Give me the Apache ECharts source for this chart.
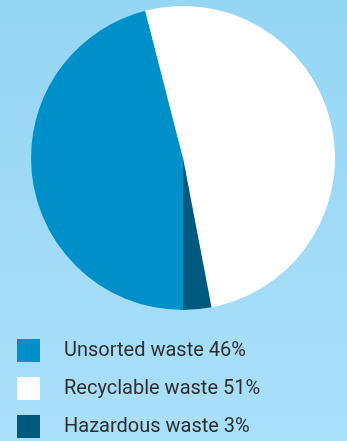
<!DOCTYPE html>
<html>
<head>
<meta charset="utf-8">
<script src="https://cdn.jsdelivr.net/npm/echarts@6/dist/echarts.min.js"></script>
<style>
  html, body { margin: 0; padding: 0; }
  body { width: 347px; height: 441px; background: linear-gradient(#95d6f4, #aadff8); }
  #chart { width: 347px; height: 441px; }
</style>
</head>
<body>
<div id="chart"></div>
<script>
// Waste composition shares (percent)
const categories = ['Unsorted waste', 'Recyclable waste', 'Hazardous waste'];
const shares = [46, 51, 3];
const colors = ['#0090c9', '#ffffff', '#005a80'];

const chart = echarts.init(document.getElementById('chart'), null, { renderer: 'canvas' });

const data = categories.map((name, i) => ({
  name,
  value: shares[i],
  itemStyle: { color: colors[i] }
}));

chart.setOption({
  backgroundColor: 'transparent',
  animation: false,
  legend: {
    orient: 'vertical',
    left: 17,
    top: 339,
    width: 330,
    height: 110,
    padding: 0,
    itemWidth: 23,
    itemHeight: 23,
    itemGap: 15,
    icon: 'rect',
    selectedMode: false,
    data: categories,
    formatter: name => name + ' ' + shares[categories.indexOf(name)] + '%',
    textStyle: {
      fontFamily: 'Roboto',
      fontSize: 20,
      color: '#2e2e2e',
      padding: [0, 0, 0, 19]
    }
  },
  series: [{
    type: 'pie',
    center: [183, 158],
    radius: [0, 152],
    startAngle: 270,
    clockwise: true,
    label: { show: false },
    labelLine: { show: false },
    emphasis: { disabled: true },
    itemStyle: { borderWidth: 0 },
    data
  }]
});
</script>
</body>
</html>
